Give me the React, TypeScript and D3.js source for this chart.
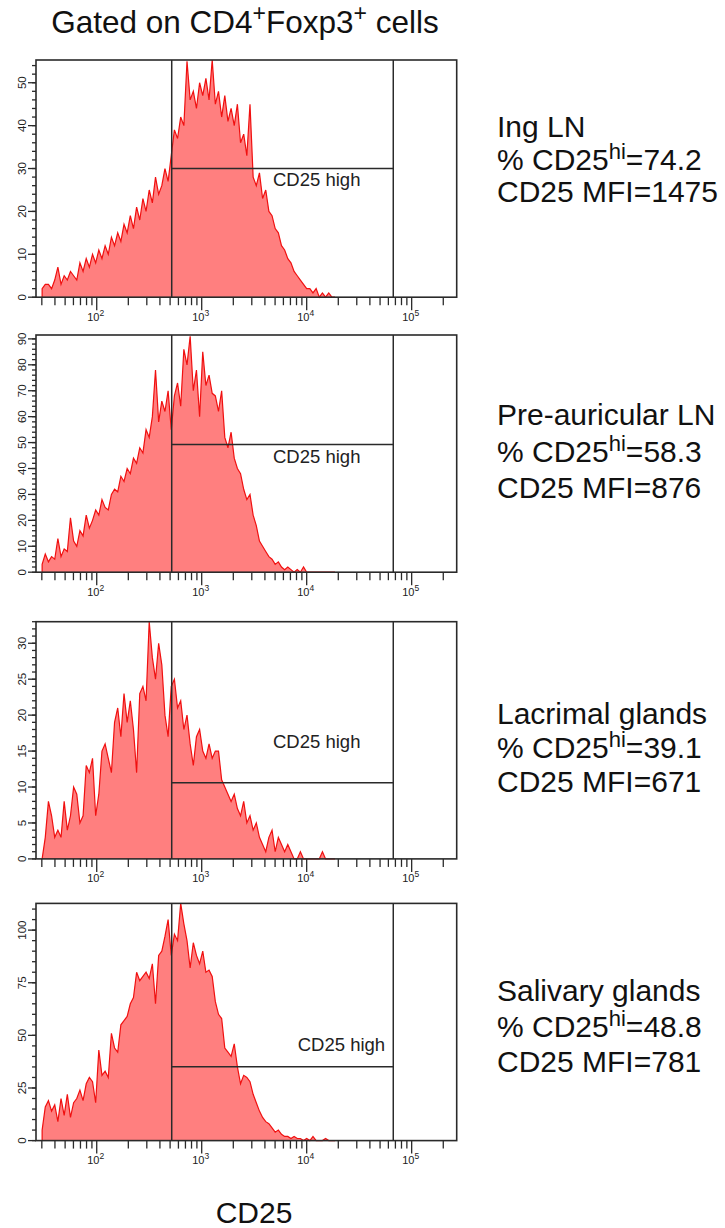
import React from "react";
import * as d3 from "d3";

// ---- data ----
const TITLE_MAIN = "Gated on CD4";
const AXIS_LABEL = "CD25";
const GATE_LABEL = "CD25 high";

// histogram bins: centres at 10^(BIN_LOG_START + i*BIN_LOG_STEP)
const BIN_LOG_START = 1.48;
const BIN_LOG_STEP = 0.03;

const tissues = ["Ing LN", "Pre-auricular LN", "Lacrimal glands", "Salivary glands"];
const pctHigh = ["74.2", "58.3", "39.1", "48.8"];
const mfi = ["1475", "876", "671", "781"];

const countsIngLN = [
  2, 3, 3, 2, 4, 7, 3, 5, 4, 6, 5, 4, 8, 6, 9, 7, 10, 8, 11, 9,
  12, 10, 14, 12, 15, 13, 17, 15, 19, 16, 21, 18, 23, 20, 25, 22, 28, 24, 26, 30,
  27, 33, 39, 37, 42, 40, 55, 46, 48, 44, 50, 47, 51, 46, 56, 45, 48, 42, 47, 41,
  44, 40, 45, 36, 38, 33, 45, 28, 26, 29, 23, 25, 20, 19, 16, 15, 12, 11, 9, 8,
  6, 5, 4, 3, 2, 2, 1, 2, 0, 1, 0, 1, 0, 0,
];
const countsPreAur = [
  3, 7, 4, 6, 5, 13, 6, 9, 8, 21, 12, 10, 16, 14, 22, 17, 20, 24, 22, 28,
  25, 24, 30, 32, 31, 37, 35, 40, 38, 44, 42, 48, 46, 55, 52, 60, 78, 58, 66, 62,
  70, 55, 68, 73, 64, 86, 80, 91, 70, 78, 60, 85, 72, 76, 69, 68, 62, 70, 52, 48,
  54, 44, 40, 38, 32, 28, 30, 22, 18, 12, 10, 8, 6, 5, 3, 4, 2, 1, 2, 1,
  0, 1, 0, 2, 0, 0, 0, 0, 0, 0, 0, 0, 0, 0,
];
const countsLacrimal = [
  0, 3, 8, 6, 3, 4, 3, 8, 4, 6, 10, 9, 5, 6, 13, 12, 14, 6, 9, 15,
  16, 14, 12, 19, 21, 17, 23, 19, 22, 18, 12, 23, 24, 22, 33, 28, 25, 30, 27, 20,
  17, 24, 25, 21, 22, 18, 20, 16, 13, 17, 18, 15, 14, 16, 14, 15, 15, 11, 10, 9,
  8, 9, 7, 6, 8, 5, 6, 4, 5, 3, 2, 1, 3, 4, 1, 3, 2, 1, 2, 1,
  0, 0, 1, 0, 0, 0, 0, 0, 0, 1, 0, 0, 0, 0,
];
const countsSalivary = [
  5, 16, 19, 14, 17, 9, 20, 12, 22, 11, 18, 20, 24, 19, 27, 30, 28, 18, 43, 31,
  33, 30, 51, 44, 42, 55, 57, 59, 65, 68, 80, 76, 78, 80, 77, 84, 65, 88, 90, 97,
  105, 88, 98, 95, 113, 103, 95, 82, 94, 88, 84, 90, 80, 81, 78, 66, 60, 58, 44, 42,
  40, 46, 35, 27, 31, 30, 28, 22, 18, 14, 11, 9, 8, 6, 4, 5, 3, 2, 2, 1,
  2, 1, 1, 0, 1, 0, 2, 0, 0, 0, 1, 0, 0, 0,
];
const panelCounts = [countsIngLN, countsPreAur, countsLacrimal, countsSalivary];

// y-axis per panel
const yMax = [55.3, 91.5, 33, 112.7];
const yMajorStep = [10, 10, 5, 25];
const yMinorStep = [2, 2, 1, 5];
// gate values
const gateLow = 518;
const gateHigh = 66800;
const gateCount = [30, 49.3, 10.6, 35.1];

// x axis
const X_DOMAIN = [26.4, 268500];
const X_DECADES = [2, 3, 4, 5];

// ---- layout ----
const W = 725;
const H = 1228;
const PLOT_L = 36;
const PLOT_R = 456.7;
const PANEL_TOPS = [60, 335, 621.7, 903.4];
const PANEL_H = 237.2;
const LABEL_POS = [
  { x: 273, y: 186 },
  { x: 273, y: 462.7 },
  { x: 273, y: 748 },
  { x: 297.7, y: 1050.7 },
];
const TEXT_BASELINES = [
  [136.7, 169.5, 202],
  [425, 461.7, 498],
  [724, 758, 792],
  [1001, 1037, 1072],
];
const FONT = "'Liberation Sans', Arial, Helvetica, sans-serif";
const FRAME = "#2a2a2a";

function Panel({ idx }: { idx: number }) {
  const top = PANEL_TOPS[idx];
  const bottom = top + PANEL_H;
  const x = d3.scaleLog().domain(X_DOMAIN).range([PLOT_L, PLOT_R]);
  const y = d3.scaleLinear().domain([0, yMax[idx]]).range([bottom, top]);
  const counts = panelCounts[idx];
  const pts = counts.map((c, i) => ({ v: Math.pow(10, BIN_LOG_START + i * BIN_LOG_STEP), c }));
  const data = [{ v: pts[0].v, c: 0 }, ...pts, { v: pts[pts.length - 1].v, c: 0 }];
  const area = d3
    .area<{ v: number; c: number }>()
    .x((d) => x(d.v))
    .y0(y(0))
    .y1((d) => y(Math.min(d.c, yMax[idx])));
  const line = d3
    .line<{ v: number; c: number }>()
    .x((d) => x(d.v))
    .y((d) => y(Math.min(d.c, yMax[idx])));

  // x ticks
  const minor: number[] = [];
  for (let e = 1; e <= 5; e++) {
    for (let k = 2; k <= 9; k++) {
      const v = k * Math.pow(10, e);
      if (v >= X_DOMAIN[0] && v <= X_DOMAIN[1]) minor.push(v);
    }
  }
  const yMajors = d3.range(0, yMax[idx] + 0.001, yMajorStep[idx]);
  const yMinors = d3.range(0, yMax[idx] + 0.001, yMinorStep[idx]);

  const gy = y(gateCount[idx]);
  const gx1 = x(gateLow);
  const gx2 = x(gateHigh);
  const tb = TEXT_BASELINES[idx];

  return (
    <g>
      <path d={area(data) || ""} fill="#ff7f7f" stroke="none" />
      <path d={line(data) || ""} fill="none" stroke="#f01010" strokeWidth={1.2} strokeLinejoin="miter" />
      {/* gates */}
      <line x1={gx1} x2={gx1} y1={top} y2={bottom} stroke={FRAME} strokeWidth={1.5} />
      <line x1={gx2} x2={gx2} y1={top} y2={bottom} stroke={FRAME} strokeWidth={1.5} />
      <line x1={gx1} x2={gx2} y1={gy} y2={gy} stroke={FRAME} strokeWidth={1.5} />
      <text x={LABEL_POS[idx].x} y={LABEL_POS[idx].y} fontSize={18.5} fill="#222" fontFamily={FONT}>
        {GATE_LABEL}
      </text>
      {/* frame */}
      <rect x={PLOT_L} y={top} width={PLOT_R - PLOT_L} height={PANEL_H} fill="none" stroke={FRAME} strokeWidth={1.6} />
      {/* y ticks */}
      {yMinors.map((v) => (
        <line key={"ym" + v} x1={PLOT_L - 4} x2={PLOT_L} y1={y(v)} y2={y(v)} stroke={FRAME} strokeWidth={1.3} />
      ))}
      {yMajors.map((v) => (
        <g key={"yM" + v}>
          <line x1={PLOT_L - 8} x2={PLOT_L} y1={y(v)} y2={y(v)} stroke={FRAME} strokeWidth={1.3} />
          <text
            transform={`translate(${21.7},${y(v)}) rotate(-90)`}
            textAnchor="middle"
            dy="0.36em"
            fontSize={11.5}
            fill="#222"
            fontFamily={FONT}
          >
            {v}
          </text>
        </g>
      ))}
      {/* x ticks */}
      {minor.map((v) => (
        <line key={"xm" + v} x1={x(v)} x2={x(v)} y1={bottom} y2={bottom + 8} stroke={FRAME} strokeWidth={1.3} />
      ))}
      {X_DECADES.map((e) => (
        <g key={"xM" + e}>
          <line x1={x(Math.pow(10, e))} x2={x(Math.pow(10, e))} y1={bottom} y2={bottom + 13} stroke={FRAME} strokeWidth={1.3} />
          <text x={x(Math.pow(10, e)) - 1} y={bottom + 23.5} textAnchor="middle" fontSize={11} fill="#222" fontFamily={FONT}>
            10
            <tspan dy={-5} fontSize={8.5}>
              {e}
            </tspan>
          </text>
        </g>
      ))}
      {/* side text */}
      <text x={497} y={tb[0]} fontSize={30} fill="#111" fontFamily={FONT}>
        {tissues[idx]}
      </text>
      <text x={497} y={tb[1]} fontSize={30} fill="#111" fontFamily={FONT}>
        % CD25
        <tspan dy={-11} fontSize={22}>
          hi
        </tspan>
        <tspan dy={11}>={pctHigh[idx]}</tspan>
      </text>
      <text x={497} y={tb[2]} fontSize={30} fill="#111" fontFamily={FONT}>
        CD25 MFI={mfi[idx]}
      </text>
    </g>
  );
}

export default function App() {
  return (
    <svg
      width={W}
      height={H}
      viewBox={`0 0 ${W} ${H}`}
      style={{ position: "absolute", left: 0, top: 0, background: "#fff" }}
    >
      <rect x={0} y={0} width={W} height={H} fill="#fff" />
      <text x={245} y={33} textAnchor="middle" fontSize={31.5} fill="#111" fontFamily={FONT}>
        {TITLE_MAIN}
        <tspan dy={-12} fontSize={23}>
          +
        </tspan>
        <tspan dy={12}>Foxp3</tspan>
        <tspan dy={-12} fontSize={23}>
          +
        </tspan>
        <tspan dy={12}> cells</tspan>
      </text>
      {[0, 1, 2, 3].map((i) => (
        <Panel key={i} idx={i} />
      ))}
      <text x={254} y={1223} textAnchor="middle" fontSize={30} fill="#111" fontFamily={FONT}>
        {AXIS_LABEL}
      </text>
    </svg>
  );
}
